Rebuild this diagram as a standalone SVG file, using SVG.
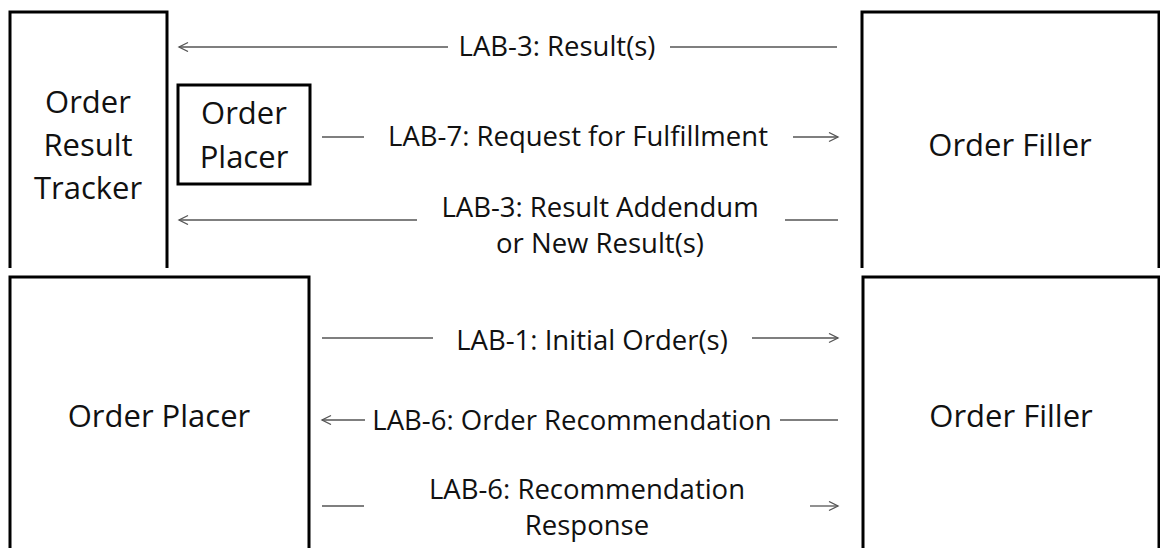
<svg xmlns="http://www.w3.org/2000/svg" width="1160" height="548" viewBox="0 0 1160 548">
<style>
.box{fill:none;stroke:#000;stroke-width:3}
.nl{font-family:"Open Sans","Noto Sans","Liberation Sans",sans-serif;font-size:31px;fill:#111;text-anchor:middle;font-variant-ligatures:none}
.el{font-family:"Open Sans","Noto Sans","Liberation Sans",sans-serif;font-size:27.5px;fill:#111;text-anchor:middle;font-variant-ligatures:none}
.ln{fill:none;stroke:#555;stroke-width:1.3}
</style>
<defs>
<marker id="ah" markerUnits="userSpaceOnUse" markerWidth="12" markerHeight="12" refX="10" refY="5" orient="auto">
<path d="M1,0.5 L10,5 L1,9.5" fill="none" stroke="#555" stroke-width="1.3"/>
</marker>
</defs>
<rect width="1160" height="548" fill="#fff"/>
<g id="order-result-tracker">
<path class="box" d="M10,268 V12 H167 V268"/>
<text class="nl" x="88" y="113">Order</text>
<text class="nl" x="88" y="156">Result</text>
<text class="nl" x="88" y="199">Tracker</text>
</g>
<g id="order-placer-small">
<rect class="box" x="178" y="85" width="132" height="99"/>
<text class="nl" x="244" y="124">Order</text>
<text class="nl" x="244" y="168">Placer</text>
</g>
<g id="order-filler-top">
<path class="box" d="M862,268 V12 H1159 V268"/>
<text class="nl" x="1010" y="156">Order Filler</text>
</g>
<g id="order-placer">
<path class="box" d="M10,550 V277 H309 V550"/>
<text class="nl" x="159" y="427">Order Placer</text>
</g>
<g id="order-filler-bottom">
<path class="box" d="M863,550 V277 H1159 V550"/>
<text class="nl" x="1011" y="427">Order Filler</text>
</g>
<g id="connectors">
<line class="ln" x1="837" y1="47" x2="670" y2="47"/>
<line class="ln" x1="448" y1="47" x2="179" y2="47" marker-end="url(#ah)"/>
<line class="ln" x1="322" y1="137" x2="364" y2="137"/>
<line class="ln" x1="793" y1="137" x2="838" y2="137" marker-end="url(#ah)"/>
<line class="ln" x1="838" y1="220" x2="785" y2="220"/>
<line class="ln" x1="417" y1="220" x2="179" y2="220" marker-end="url(#ah)"/>
<line class="ln" x1="322" y1="338" x2="433" y2="338"/>
<line class="ln" x1="752" y1="338" x2="838" y2="338" marker-end="url(#ah)"/>
<line class="ln" x1="838" y1="420" x2="780" y2="420"/>
<line class="ln" x1="365" y1="420" x2="322" y2="420" marker-end="url(#ah)"/>
<line class="ln" x1="322" y1="506" x2="364" y2="506"/>
<line class="ln" x1="810" y1="506" x2="838" y2="506" marker-end="url(#ah)"/>
</g>
<g id="labels">
<text class="el" x="557" y="56">LAB-3: Result(s)</text>
<text class="el" x="578" y="146">LAB-7: Request for Fulfillment</text>
<text class="el" x="600" y="217">LAB-3: Result Addendum</text>
<text class="el" x="600" y="253">or New Result(s)</text>
<text class="el" x="592" y="350">LAB-1: Initial Order(s)</text>
<text class="el" x="572" y="430">LAB-6: Order Recommendation</text>
<text class="el" x="587" y="499">LAB-6: Recommendation</text>
<text class="el" x="587" y="535">Response</text>
</g>
</svg>
